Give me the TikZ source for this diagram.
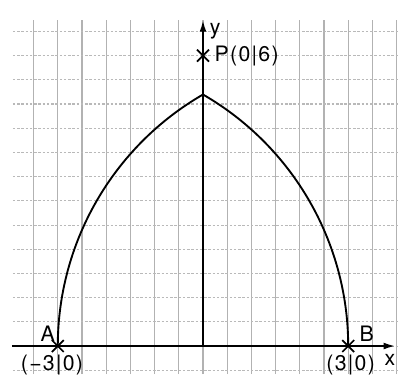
\documentclass[tikz,border=0pt]{standalone}
\usepackage{fontspec}
\setmainfont{TeX Gyre Heros}
\usetikzlibrary{arrows.meta,shapes.misc,positioning}

\begin{document}
\begin{tikzpicture}[
    gridv/.style={gray!60,line width=0.6pt},
    gridh/.style={gray!55,line width=0.6pt,dash pattern=on 1.5pt off 1pt},
    axis/.style={line width=1.2pt,-{Latex[length=7pt,width=4pt]}},
    arch/.style={line width=1.1pt},
    crossmark/.style={cross out,draw,line width=1pt,minimum size=6pt,inner sep=0pt},
    lbl/.style={font=\fontsize{12.5}{14}\selectfont\addfontfeature{LetterSpace=6},inner sep=1pt}
]
    \useasboundingbox (-4.194,-0.579) rectangle (4.029,7.149);

    % Grid
    \foreach \x in {-3.5,-3,...,4} {
        \draw[gridv] (\x,-0.58) -- (\x,6.74);
    }
    \foreach \y in {-0.5,0,...,6.5} {
        \draw[gridh] (-3.93,\y) -- (4.03,\y);
    }

    % Axes
    \coordinate (O) at (0,0);
    \coordinate (xl) at (-3.95,0);
    \coordinate (xr) at (3.98,0);
    \coordinate (yt) at (0,6.74);
    \draw[axis] (xl) -- (xr);
    \draw[axis] (O) -- (yt);
    \node[lbl] (xlab) at (3.86,-0.29) {x};
    \node[lbl] (ylab) at (0.25,6.51) {y};

    % Points
    \node[crossmark] (A) at (-3,0) {};
    \node[crossmark] (B) at (3,0) {};
    \node[crossmark] (P) at (0,6) {};
    \coordinate (S) at (0,5.196);

    \node[lbl] (Alab) at (-3.21,0.25) {A};
    \node[lbl] (Acoord) at (-3.12,-0.40) {(−3|0)};
    \node[lbl] (Blab) at (3.38,0.25) {B};
    \node[lbl] (Bcoord) at (3.05,-0.40) {(3|0)};
    \node[lbl,anchor=west] (Plab) at (0.2,6) {P(0|6)};

    % Arch
    \draw[arch] (A.center) arc[start angle=180,end angle=120,radius=6];
    \draw[arch] (B.center) arc[start angle=0,end angle=60,radius=6];
\end{tikzpicture}
\end{document}
